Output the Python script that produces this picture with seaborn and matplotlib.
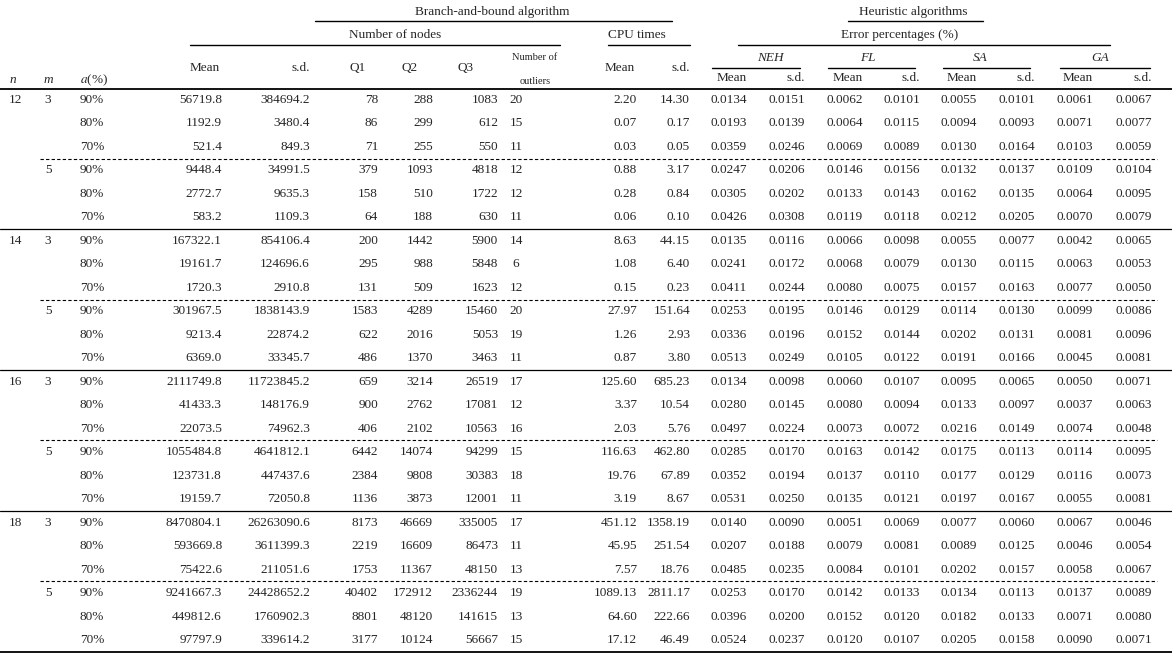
import matplotlib
matplotlib.use("Agg")
import matplotlib.pyplot as plt
import seaborn as sns

sns.set_theme(style="white")
plt.rcParams['font.family'] = ['Liberation Serif', 'DejaVu Serif']
plt.rcParams['mathtext.fontset'] = 'stix'

n_vals = ["12", "14", "16", "18"]
m_vals = ["3", "5"]
a_vals = ["90%", "80%", "70%"]
node_mean = ["56719.8","1192.9","521.4","9448.4","2772.7","583.2",
             "167322.1","19161.7","1720.3","301967.5","9213.4","6369.0",
             "2111749.8","41433.3","22073.5","1055484.8","123731.8","19159.7",
             "8470804.1","593669.8","75422.6","9241667.3","449812.6","97797.9"]
node_sd = ["384694.2","3480.4","849.3","34991.5","9635.3","1109.3",
           "854106.4","124696.6","2910.8","1838143.9","22874.2","33345.7",
           "11723845.2","148176.9","74962.3","4641812.1","447437.6","72050.8",
           "26263090.6","3611399.3","211051.6","24428652.2","1760902.3","339614.2"]
q1 = ["78","86","71","379","158","64","200","295","131","1583","622","486",
      "659","900","406","6442","2384","1136","8173","2219","1753","40402","8801","3177"]
q2 = ["288","299","255","1093","510","188","1442","988","509","4289","2016","1370",
      "3214","2762","2102","14074","9808","3873","46669","16609","11367","172912","48120","10124"]
q3 = ["1083","612","550","4818","1722","630","5900","5848","1623","15460","5053","3463",
      "26519","17081","10563","94299","30383","12001","335005","86473","48150","2336244","141615","56667"]
outliers = ["20","15","11","12","12","11","14","6","12","20","19","11",
            "17","12","16","15","18","11","17","11","13","19","13","15"]
cpu_mean = ["2.20","0.07","0.03","0.88","0.28","0.06","8.63","1.08","0.15","27.97","1.26","0.87",
            "125.60","3.37","2.03","116.63","19.76","3.19","451.12","45.95","7.57","1089.13","64.60","17.12"]
cpu_sd = ["14.30","0.17","0.05","3.17","0.84","0.10","44.15","6.40","0.23","151.64","2.93","3.80",
          "685.23","10.54","5.76","462.80","67.89","8.67","1358.19","251.54","18.76","2811.17","222.66","46.49"]
neh_mean = ["0.0134","0.0193","0.0359","0.0247","0.0305","0.0426","0.0135","0.0241","0.0411","0.0253","0.0336","0.0513",
            "0.0134","0.0280","0.0497","0.0285","0.0352","0.0531","0.0140","0.0207","0.0485","0.0253","0.0396","0.0524"]
neh_sd = ["0.0151","0.0139","0.0246","0.0206","0.0202","0.0308","0.0116","0.0172","0.0244","0.0195","0.0196","0.0249",
          "0.0098","0.0145","0.0224","0.0170","0.0194","0.0250","0.0090","0.0188","0.0235","0.0170","0.0200","0.0237"]
fl_mean = ["0.0062","0.0064","0.0069","0.0146","0.0133","0.0119","0.0066","0.0068","0.0080","0.0146","0.0152","0.0105",
           "0.0060","0.0080","0.0073","0.0163","0.0137","0.0135","0.0051","0.0079","0.0084","0.0142","0.0152","0.0120"]
fl_sd = ["0.0101","0.0115","0.0089","0.0156","0.0143","0.0118","0.0098","0.0079","0.0075","0.0129","0.0144","0.0122",
         "0.0107","0.0094","0.0072","0.0142","0.0110","0.0121","0.0069","0.0081","0.0101","0.0133","0.0120","0.0107"]
sa_mean = ["0.0055","0.0094","0.0130","0.0132","0.0162","0.0212","0.0055","0.0130","0.0157","0.0114","0.0202","0.0191",
           "0.0095","0.0133","0.0216","0.0175","0.0177","0.0197","0.0077","0.0089","0.0202","0.0134","0.0182","0.0205"]
sa_sd = ["0.0101","0.0093","0.0164","0.0137","0.0135","0.0205","0.0077","0.0115","0.0163","0.0130","0.0131","0.0166",
         "0.0065","0.0097","0.0149","0.0113","0.0129","0.0167","0.0060","0.0125","0.0157","0.0113","0.0133","0.0158"]
ga_mean = ["0.0061","0.0071","0.0103","0.0109","0.0064","0.0070","0.0042","0.0063","0.0077","0.0099","0.0081","0.0045",
           "0.0050","0.0037","0.0074","0.0114","0.0116","0.0055","0.0067","0.0046","0.0058","0.0137","0.0071","0.0090"]
ga_sd = ["0.0067","0.0077","0.0059","0.0104","0.0095","0.0079","0.0065","0.0053","0.0050","0.0086","0.0096","0.0081",
         "0.0071","0.0063","0.0048","0.0095","0.0073","0.0081","0.0046","0.0054","0.0067","0.0089","0.0080","0.0071"]

W, H = 1172, 661
fig = plt.figure(figsize=(W/100, H/100), dpi=100)
ax = fig.add_axes([0, 0, 1, 1])
ax.set_xlim(0, W); ax.set_ylim(H, 0); ax.axis("off")
FS = 9.5

def t(x, y, s, ha="center", **kw):
    ax.text(x, y, s, ha=ha, va="center", fontsize=kw.pop("fontsize", FS), **kw)

def hl(x0, x1, y, ls="-", lw=1.0):
    ax.plot([x0, x1], [y, y], color="black", lw=lw, ls=ls)

# headers
t(492, 12, "Branch-and-bound algorithm"); hl(315, 672, 21)
t(913, 12, "Heuristic algorithms"); hl(848, 983, 21)
t(395, 35, "Number of nodes"); hl(190, 560, 45)
t(637, 35, "CPU times"); hl(608, 690, 45)
t(900, 35, "Error percentages (%)"); hl(738, 1110, 45)
for cx, x0, x1, lab in [(770, 712, 800, "NEH"), (868, 828, 915, "FL"),
                        (980, 943, 1030, "SA"), (1100, 1060, 1150, "GA")]:
    t(cx, 58, lab, style="italic"); hl(x0, x1, 68)
t(13, 80, "n", style="italic"); t(48, 80, "m", style="italic")
ax.text(80, 80, "$a$(%)", ha="left", va="center", fontsize=FS)
cols = [222, 310, 378, 433, 498, None, 637, 690, 747, 805, 863, 920, 977, 1035, 1093, 1152]
t(205, 68, "Mean")
t(310, 68, "s.d.", ha="right")
t(358, 68, "Q1"); t(410, 68, "Q2"); t(466, 68, "Q3")
t(620, 68, "Mean"); t(690, 68, "s.d.", ha="right")
t(535, 57, "Number of", fontsize=7.5)
t(535, 82, "outliers", fontsize=7.5)
for i, x in enumerate([747, 805, 863, 920, 977, 1035, 1093, 1152]):
    t(x, 78, "Mean" if i % 2 == 0 else "s.d.", ha="right")
hl(0, W, 89, lw=1.3)

data = [node_mean, node_sd, q1, q2, q3, outliers, cpu_mean, cpu_sd,
        neh_mean, neh_sd, fl_mean, fl_sd, sa_mean, sa_sd, ga_mean, ga_sd]
y0, dy = 100, 23.48
for r in range(24):
    y = y0 + r*dy
    if r % 6 == 0:
        t(15, y, n_vals[r//6])
    if r % 3 == 0:
        t(48, y, m_vals[(r//3) % 2])
    ax.text(80, y, a_vals[r % 3], ha="left", va="center", fontsize=FS)
    for x, col in zip(cols, data):
        if x is None:
            t(516, y, col[r], ha="center")
        else:
            t(x, y, col[r], ha="right")
    if r % 6 == 2:
        hl(40, W-15, y + dy/2, ls=(0, (3, 2)), lw=0.8)
    elif r % 6 == 5 and r < 23:
        hl(0, W, y + dy/2, lw=0.9)
hl(0, W, y0 + 23*dy + 12, lw=1.3)

fig.savefig("out.png", dpi=100)
